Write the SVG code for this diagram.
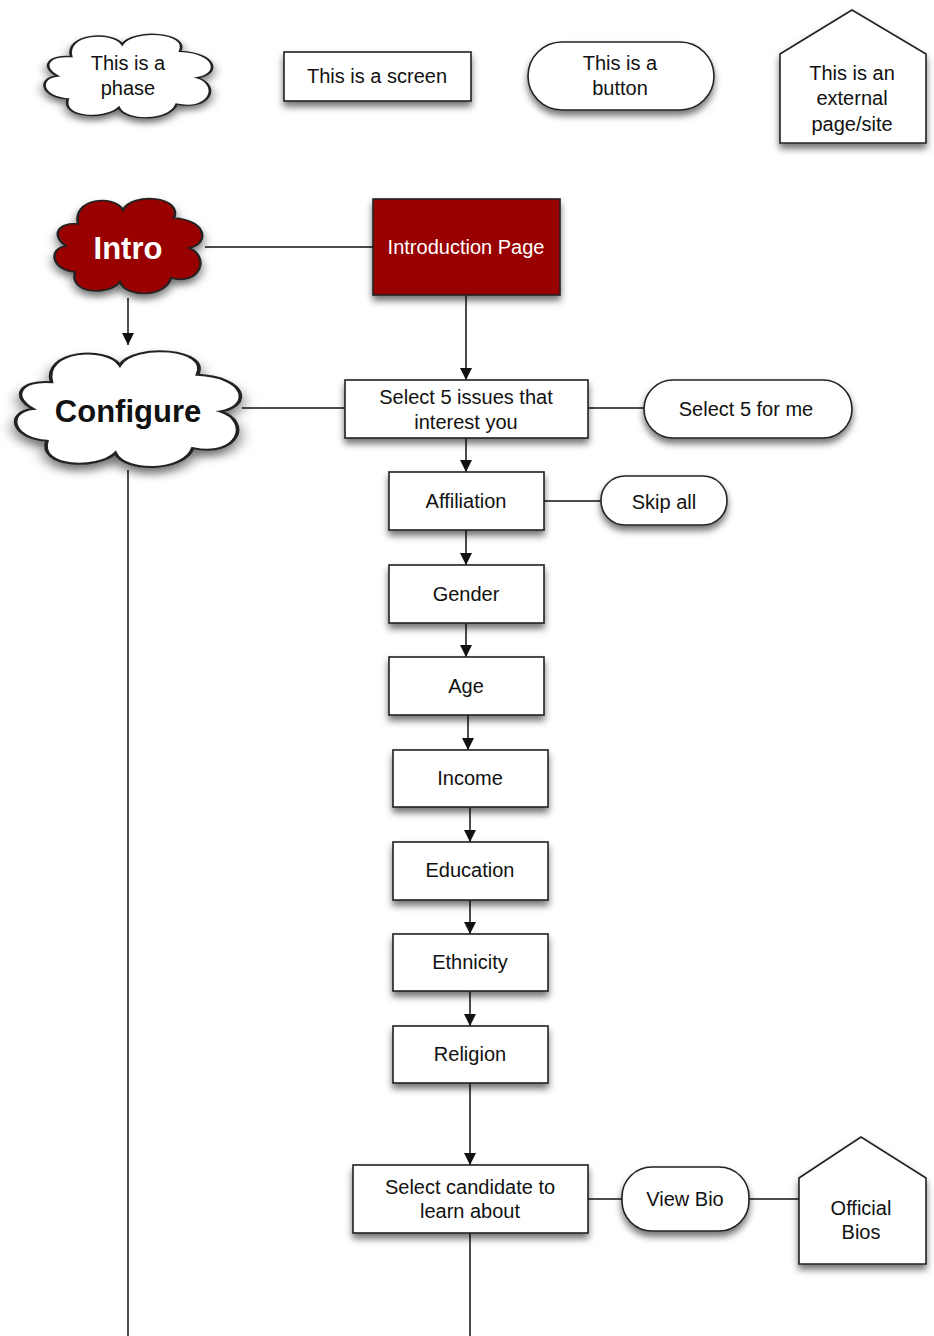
<svg xmlns="http://www.w3.org/2000/svg" width="934" height="1336" viewBox="0 0 934 1336">
<defs>
<filter id="sh" x="-20%" y="-20%" width="140%" height="150%">
<feDropShadow dx="0" dy="5" stdDeviation="3.5" flood-color="#000" flood-opacity="0.55"/>
</filter>
<marker id="ar" viewBox="0 0 10 10" refX="10" refY="5" markerWidth="13" markerHeight="12" markerUnits="userSpaceOnUse" orient="auto">
<path d="M0,0 L10,5 L0,10 Z" fill="#111"/>
</marker>
<path id="cloud" d="M16 28 C12 2, 40 -2, 46 14 C52 -4, 86 0, 80 22 C102 24, 104 48, 90 52 C104 60, 98 90, 78 82 C74 102, 48 102, 44 86 C36 100, 10 98, 14 76 C-2 74, -4 52, 8 50 C-2 40, 2 26, 16 28 Z"/>
</defs>
<style>
.s{fill:#fff;stroke:#222;stroke-width:1.6;filter:url(#sh)}
.r{fill:#990000;stroke:#222;stroke-width:1.6;filter:url(#sh)}
.c{vector-effect:non-scaling-stroke}
.t{font-family:"Liberation Sans",Arial,Helvetica,sans-serif;font-size:20px;fill:#111;text-anchor:middle}
.w{fill:#fff}
.b{font-weight:bold;font-size:31px}
.l{fill:none;stroke:#111;stroke-width:1.5}
</style>
<rect width="934" height="1336" fill="#fff"/>
<g id="connectors">
<line class="l" x1="205" y1="247" x2="373" y2="247"/>
<line class="l" x1="128" y1="298" x2="128" y2="345" marker-end="url(#ar)"/>
<line class="l" x1="466" y1="295" x2="466" y2="380" marker-end="url(#ar)"/>
<line class="l" x1="242" y1="408" x2="345" y2="408"/>
<line class="l" x1="588" y1="408" x2="644" y2="408"/>
<line class="l" x1="466" y1="438" x2="466" y2="472" marker-end="url(#ar)"/>
<line class="l" x1="544" y1="501" x2="601" y2="501"/>
<line class="l" x1="466" y1="530" x2="466" y2="565" marker-end="url(#ar)"/>
<line class="l" x1="466" y1="623" x2="466" y2="657" marker-end="url(#ar)"/>
<line class="l" x1="468" y1="715" x2="468" y2="750" marker-end="url(#ar)"/>
<line class="l" x1="470" y1="807" x2="470" y2="842" marker-end="url(#ar)"/>
<line class="l" x1="470" y1="900" x2="470" y2="934" marker-end="url(#ar)"/>
<line class="l" x1="470" y1="991" x2="470" y2="1026" marker-end="url(#ar)"/>
<line class="l" x1="470" y1="1083" x2="470" y2="1165" marker-end="url(#ar)"/>
<line class="l" x1="588" y1="1199" x2="622" y2="1199"/>
<line class="l" x1="749" y1="1199" x2="799" y2="1199"/>
<line class="l" x1="470" y1="1233" x2="470" y2="1336"/>
<line class="l" x1="128" y1="470" x2="128" y2="1336"/>
</g>
<g id="legend-phase">
<use href="#cloud" class="s c" transform="translate(44,32) scale(1.7,0.88)"/>
<text class="t" x="128" y="70">This is a</text>
<text class="t" x="128" y="95">phase</text>
</g>
<g id="legend-screen">
<rect class="s" x="284" y="52" width="187" height="49"/>
<text class="t" x="377" y="83">This is a screen</text>
</g>
<g id="legend-button">
<rect class="s" x="528" y="42" width="186" height="68" rx="34"/>
<text class="t" x="620" y="70">This is a</text>
<text class="t" x="620" y="95">button</text>
</g>
<g id="legend-external">
<path class="s" d="M780 54 L852 10 L926 54 L926 143 L780 143 Z"/>
<text class="t" x="852" y="80">This is an</text>
<text class="t" x="852" y="105">external</text>
<text class="t" x="852" y="131">page/site</text>
</g>
<g id="intro">
<use href="#cloud" class="r c" transform="translate(54,196) scale(1.5,1.0)"/>
<text class="t w b" x="128" y="259">Intro</text>
</g>
<g id="introduction-page">
<rect class="r" x="373" y="199" width="187" height="96"/>
<text class="t w" x="466" y="254">Introduction Page</text>
</g>
<g id="configure">
<use href="#cloud" class="s c" transform="translate(15,348) scale(2.28,1.22)"/>
<text class="t b" x="128" y="422">Configure</text>
</g>
<g id="select-issues">
<rect class="s" x="345" y="380" width="243" height="58"/>
<text class="t" x="466" y="404">Select 5 issues that</text>
<text class="t" x="466" y="429">interest you</text>
</g>
<g id="select-for-me">
<rect class="s" x="644" y="380" width="208" height="58" rx="29"/>
<text class="t" x="746" y="416">Select 5 for me</text>
</g>
<g id="affiliation">
<rect class="s" x="389" y="472" width="155" height="58"/>
<text class="t" x="466" y="508">Affiliation</text>
</g>
<g id="skip-all">
<rect class="s" x="601" y="476" width="126" height="49" rx="24"/>
<text class="t" x="664" y="509">Skip all</text>
</g>
<g id="gender">
<rect class="s" x="389" y="565" width="155" height="58"/>
<text class="t" x="466" y="601">Gender</text>
</g>
<g id="age">
<rect class="s" x="389" y="657" width="155" height="58"/>
<text class="t" x="466" y="693">Age</text>
</g>
<g id="income">
<rect class="s" x="393" y="750" width="155" height="57"/>
<text class="t" x="470" y="785">Income</text>
</g>
<g id="education">
<rect class="s" x="393" y="842" width="155" height="58"/>
<text class="t" x="470" y="877">Education</text>
</g>
<g id="ethnicity">
<rect class="s" x="393" y="934" width="155" height="57"/>
<text class="t" x="470" y="969">Ethnicity</text>
</g>
<g id="religion">
<rect class="s" x="393" y="1026" width="155" height="57"/>
<text class="t" x="470" y="1061">Religion</text>
</g>
<g id="select-candidate">
<rect class="s" x="353" y="1165" width="235" height="68"/>
<text class="t" x="470" y="1194">Select candidate to</text>
<text class="t" x="470" y="1218">learn about</text>
</g>
<g id="view-bio">
<rect class="s" x="622" y="1167" width="127" height="64" rx="30"/>
<text class="t" x="685" y="1206">View Bio</text>
</g>
<g id="official-bios">
<path class="s" d="M799 1178 L861 1137 L926 1178 L926 1264 L799 1264 Z"/>
<text class="t" x="861" y="1215">Official</text>
<text class="t" x="861" y="1239">Bios</text>
</g>
</svg>
